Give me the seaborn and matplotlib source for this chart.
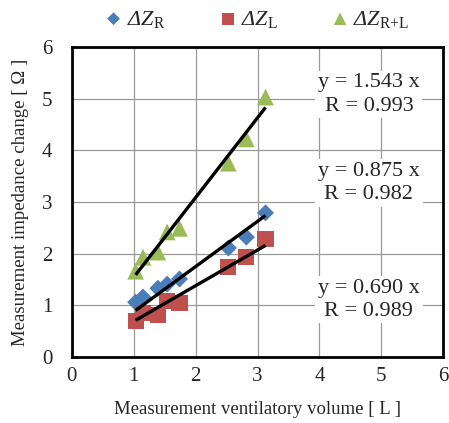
import numpy as np
import pandas as pd
import matplotlib
matplotlib.use("Agg")
import matplotlib.pyplot as plt
import seaborn as sns

volume = [1.03, 1.15, 1.39, 1.54, 1.74, 2.53, 2.82, 3.13]
dz_r = [1.06, 1.16, 1.33, 1.41, 1.51, 2.11, 2.32, 2.79]
dz_l = [0.70, 0.85, 0.81, 1.08, 1.05, 1.74, 1.93, 2.28]
dz_rl = [1.66, 1.93, 2.03, 2.42, 2.49, 3.75, 4.22, 5.03]

# trendlines through the origin
slopes = [0.875, 0.690, 1.543]
r_values = [0.982, 0.989, 0.993]
labels = [r"$\mathsf{ΔZ}_{\mathrm{R}}$", r"$\mathsf{ΔZ}_{\mathrm{L}}$", r"$\mathsf{ΔZ}_{\mathrm{R{+}L}}$"]

sns.set_style("white")
plt.rcParams["font.family"] = ["Liberation Serif", "DejaVu Serif"]
plt.rcParams["mathtext.fontset"] = "custom"
plt.rcParams["mathtext.rm"] = "Liberation Serif"
plt.rcParams["mathtext.it"] = "Liberation Serif:italic"
# sf slot used for the italic delta (the it slot forces Greek capitals upright)
plt.rcParams["mathtext.sf"] = "Liberation Serif:italic"

colors = ["#4A7EBB", "#C0504D", "#9BBB59"]
markers = ["D", "s", "^"]
sizes = [75, 135, 145]

df = pd.DataFrame({"volume": volume, "R": dz_r, "L": dz_l, "RL": dz_rl})

fig, ax = plt.subplots(figsize=(4.49, 4.23), dpi=100)
fig.subplots_adjust(left=0.160, right=0.987, bottom=0.156, top=0.889)

for col, lab, c, m, s in zip(["R", "L", "RL"], labels, colors, markers, sizes):
    sns.scatterplot(data=df, x="volume", y=col, ax=ax, color=c, marker=m, s=s,
                    edgecolor="none", label=lab, zorder=3)

# black trend lines
for col, k in zip(["R", "L", "RL"], slopes):
    xs = np.array([df["volume"].min(), df["volume"].max()])
    ax.plot(xs, k * xs, color="black", lw=2.4, zorder=4, solid_capstyle="butt")

# equations
text_y = [3.37, 1.11, 5.08]
for k, r, ty in zip(slopes, r_values, text_y):
    ax.text(4.8, ty, f"y = {k:.3f} x\nR = {r:.3f}", ha="center", va="center",
            fontsize=16, linespacing=1.3, zorder=5,
            bbox=dict(facecolor="white", edgecolor="none", pad=2))

ax.set_xlim(0, 6)
ax.set_ylim(0, 6)
ax.set_xticks(range(0, 7))
ax.set_yticks(range(0, 7))
ax.grid(True, color="#9a9a9a", lw=0.9)
ax.set_axisbelow(True)
for sp in ax.spines.values():
    sp.set_color("black")
    sp.set_linewidth(2)
ax.tick_params(axis="both", length=0, labelsize=15)
ax.tick_params(axis="x", pad=7)
ax.tick_params(axis="y", pad=14)
ax.set_xlabel("Measurement ventilatory volume [ L ]", fontsize=13.5, labelpad=11)
ax.set_ylabel("Measurement impedance change [ Ω ]", fontsize=13.5, labelpad=9)

handles, labs = ax.get_legend_handles_labels()
ax.legend_.remove()
fig.legend(handles, labs, loc="center", bbox_to_anchor=(0.57, 0.955), ncol=3,
           frameon=False, fontsize=16, handletextpad=0.1, columnspacing=2.3,
           handlelength=1.0, markerscale=0.75)

fig.savefig("out.png", dpi=100)
